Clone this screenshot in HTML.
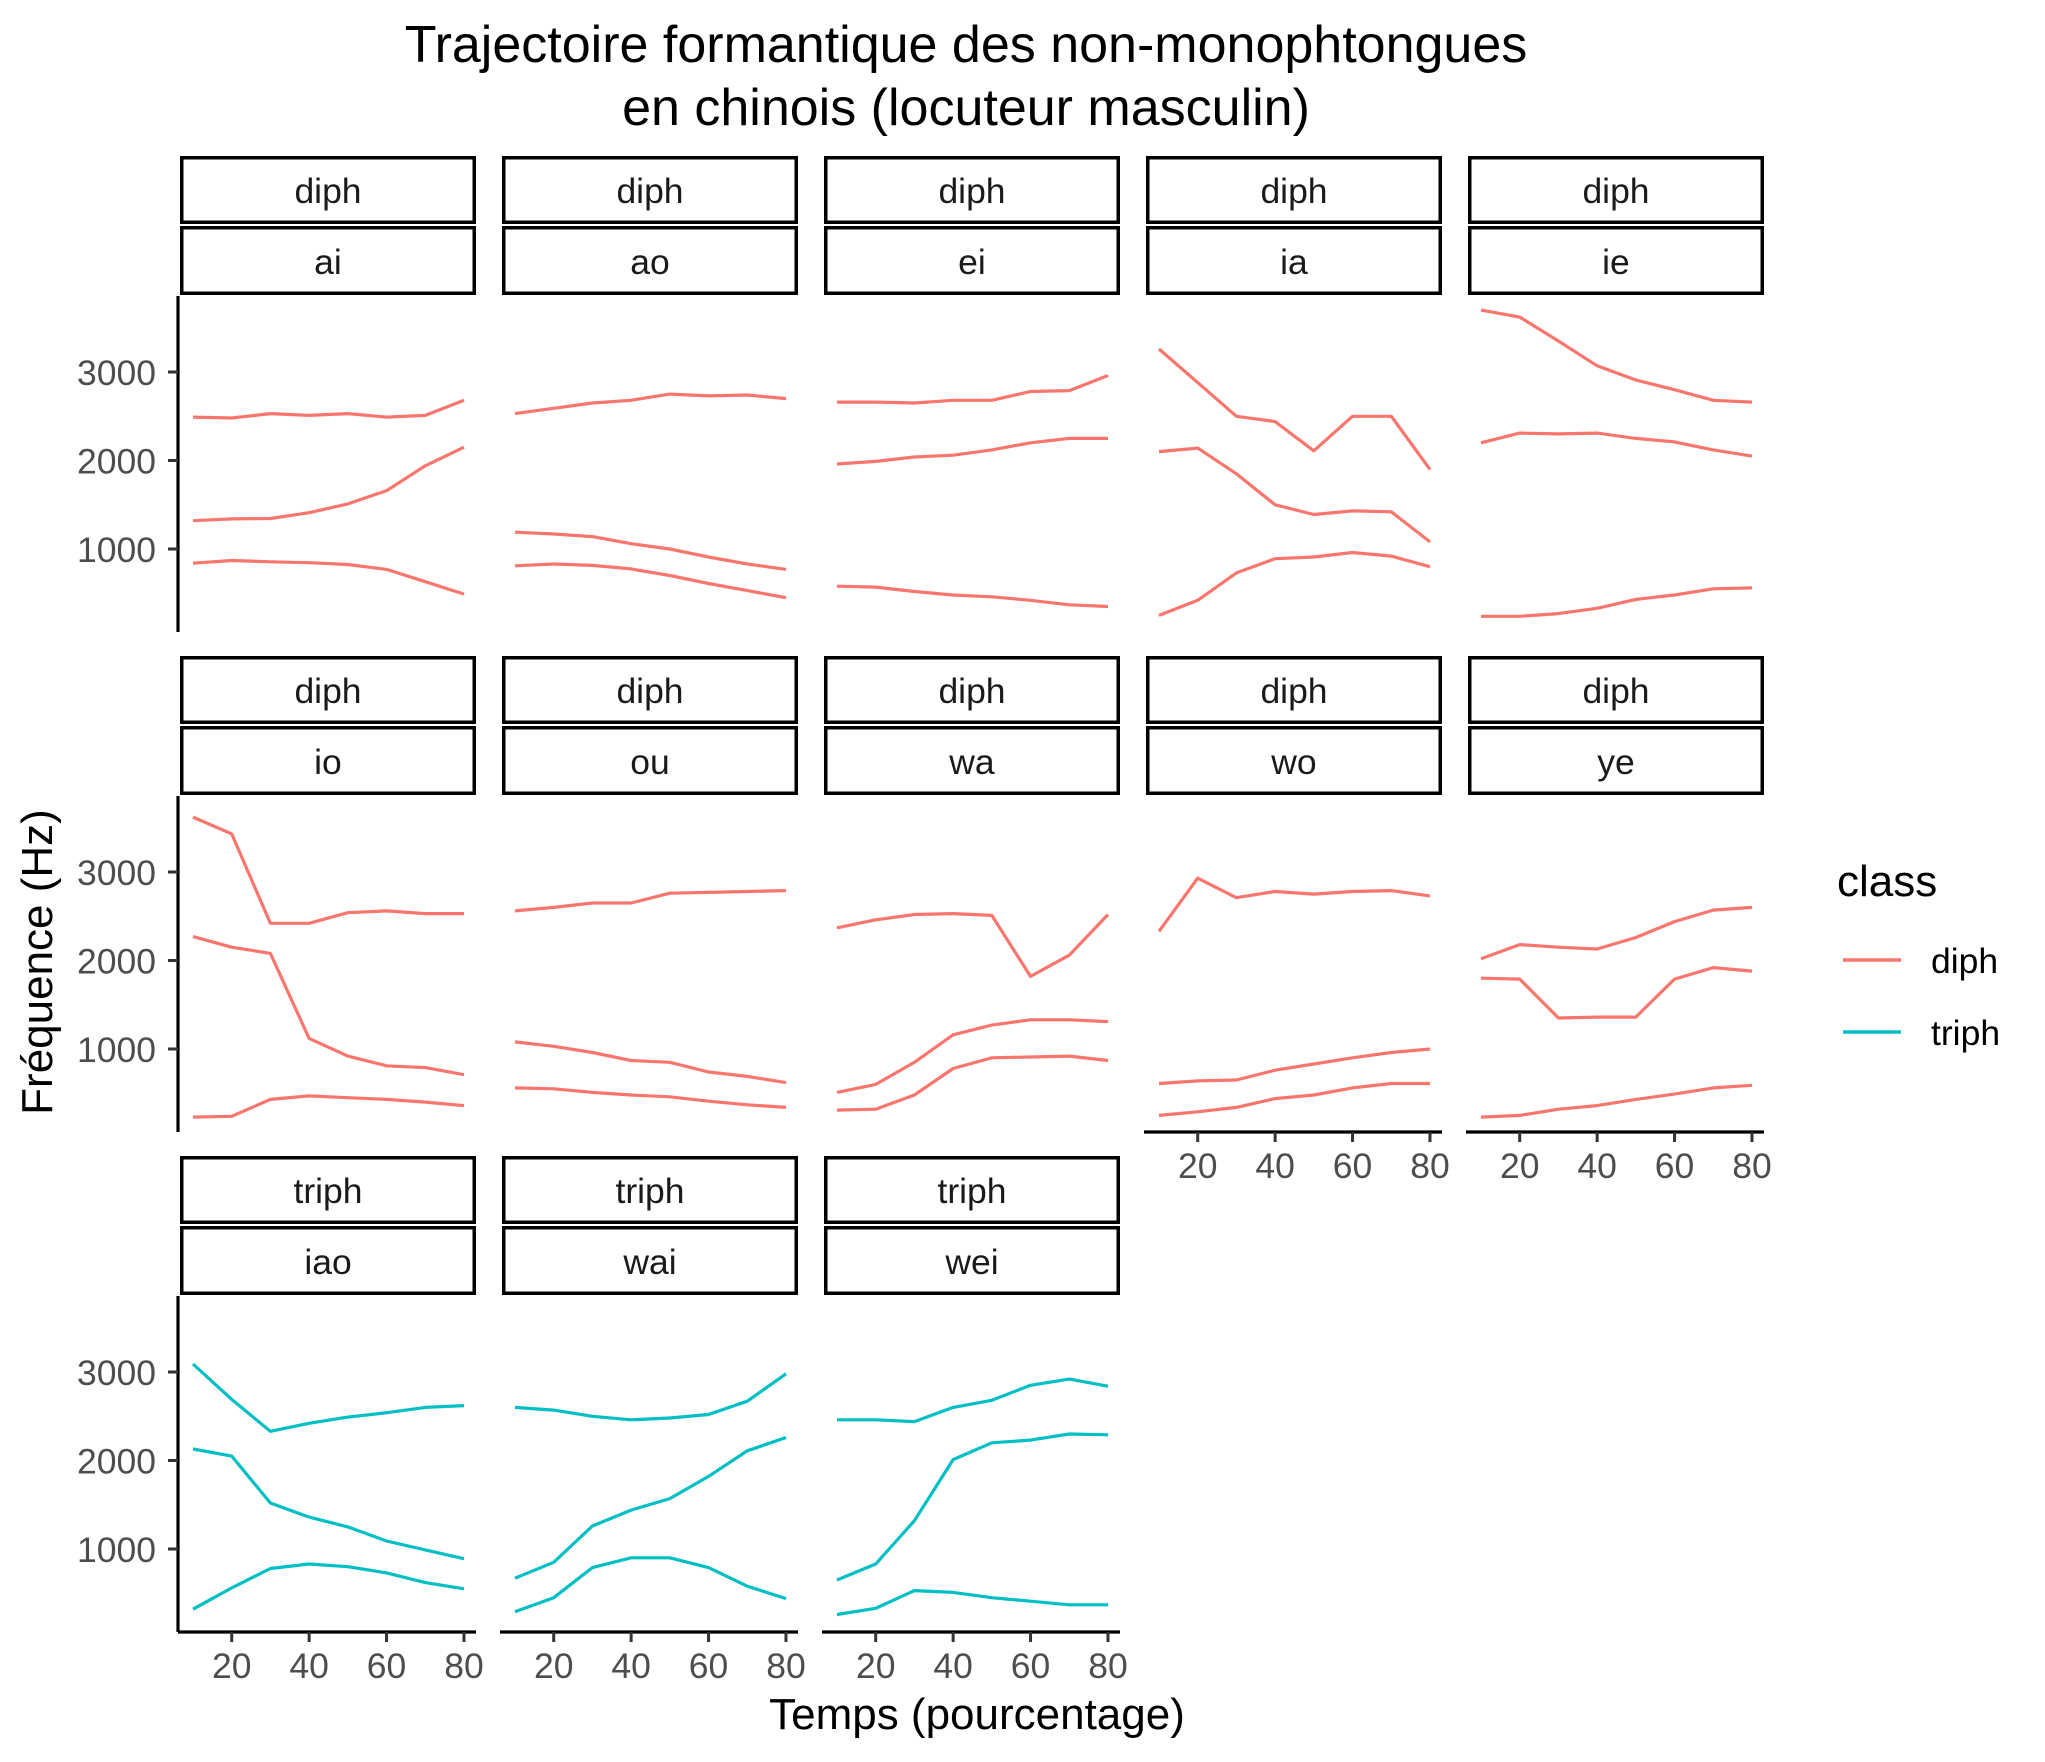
<!DOCTYPE html>
<html><head><meta charset="utf-8"><style>
html,body{margin:0;padding:0;background:#fff;}
svg{display:block;font-family:"Liberation Sans",Arial,sans-serif;}
</style></head><body>
<svg id="chart" width="2045" height="1762" viewBox="0 0 2045 1762" xmlns="http://www.w3.org/2000/svg">
<rect width="2045" height="1762" fill="#fff"/>
<text x="966" y="62" font-size="52" text-anchor="middle" fill="#000">Trajectoire formantique des non-monophtongues</text>
<text x="966" y="125" font-size="52" text-anchor="middle" fill="#000">en chinois (locuteur masculin)</text>
<text x="977" y="1729" font-size="44" text-anchor="middle" fill="#000">Temps (pourcentage)</text>
<text transform="translate(52,962) rotate(-90)" font-size="44" text-anchor="middle" fill="#000">Fréquence (Hz)</text>
<g>
<text x="1837" y="896" font-size="44" fill="#000">class</text>
<line x1="1843" x2="1901" y1="960" y2="960" stroke="#F8766D" stroke-width="3.5"/>
<text x="1931" y="973" font-size="35.5" fill="#000">diph</text>
<line x1="1843" x2="1901" y1="1032" y2="1032" stroke="#00BFC4" stroke-width="3.5"/>
<text x="1931" y="1045" font-size="35.5" fill="#000">triph</text>
</g>
<g id="panels"></g>
</svg>
<script>
const times = [10,20,30,40,50,60,70,80];
const vowels = ["ai","ao","ei","ia","ie","io","ou","wa","wo","ye","iao","wai","wei"];
const classes = ["diph","diph","diph","diph","diph","diph","diph","diph","diph","diph","triph","triph","triph"];
const yTicks = [1000,2000,3000];
const xTicks = [20,40,60,80];
const F1 = [
 [840,870,855,845,825,770,630,490],
 [810,830,815,775,700,610,530,450],
 [580,570,520,480,460,420,370,350],
 [250,420,730,890,910,960,920,800],
 [240,240,270,330,430,480,550,560],
 [230,240,430,470,450,430,400,360],
 [560,550,510,480,460,410,370,340],
 [310,320,480,780,900,910,920,870],
 [250,290,340,440,480,560,610,610],
 [230,250,320,360,430,490,560,590],
 [320,560,780,830,800,730,620,550],
 [290,450,790,900,900,790,580,440],
 [260,330,530,510,450,410,370,370]
];
const F2 = [
 [1320,1340,1345,1410,1510,1660,1940,2150],
 [1190,1170,1140,1060,1000,910,830,770],
 [1960,1990,2040,2060,2120,2200,2250,2250],
 [2100,2140,1850,1500,1390,1430,1420,1080],
 [2200,2310,2300,2310,2250,2210,2120,2050],
 [2270,2150,2080,1120,920,810,790,710],
 [1080,1030,960,870,850,740,690,620],
 [510,600,850,1160,1270,1330,1330,1310],
 [610,640,650,760,830,900,960,1000],
 [1800,1790,1350,1360,1360,1790,1920,1880],
 [2130,2050,1520,1360,1250,1090,990,890],
 [670,850,1260,1440,1570,1820,2110,2260],
 [650,830,1320,2010,2200,2230,2300,2290]
];
const F3 = [
 [2490,2480,2530,2510,2530,2490,2510,2680],
 [2530,2590,2650,2680,2750,2730,2740,2700],
 [2660,2660,2650,2680,2680,2780,2790,2960],
 [3260,2880,2500,2440,2110,2500,2500,1900],
 [3700,3620,3350,3070,2910,2800,2680,2660],
 [3620,3430,2420,2420,2540,2560,2530,2530],
 [2560,2600,2650,2650,2760,2770,2780,2790],
 [2370,2460,2520,2530,2510,1820,2060,2520],
 [2330,2930,2710,2780,2750,2780,2790,2730],
 [2020,2180,2150,2130,2260,2440,2570,2600],
 [3090,2690,2330,2420,2490,2540,2600,2620],
 [2600,2570,2500,2460,2480,2520,2670,2980],
 [2460,2460,2440,2600,2680,2850,2920,2840]
];
const colors = {diph:"#F8766D", triph:"#00BFC4"};
const NS = "http://www.w3.org/2000/svg";
const root = document.getElementById("panels");
function mk(tag, attrs, parent){ const e=document.createElementNS(NS,tag); for(const k in attrs) e.setAttribute(k,attrs[k]); parent.appendChild(e); return e; }
const colPitch = 322, rowPitch = 500, left0 = 178, pw = 298;
function xs(col, t){ return 193 + col*colPitch + (t-10)*3.871; }
function ys(row, v){ return 549 + row*rowPitch - (v-1000)*0.0885; }
vowels.forEach((v, i) => {
  const col = i % 5, row = Math.floor(i / 5);
  const g = mk("g", {}, root);
  
  
  const sx = 180 + col*colPitch, sy = 156 + row*rowPitch;
  const s1 = mk("rect", {x:sx+1.75, y:sy+1.75, width:292.5, height:64.5, fill:"#fff", stroke:"#000", "stroke-width":3.5}, g);
  
  
  const t1 = mk("text", {x:sx+148, y:sy+47, "font-size":35.5, "text-anchor":"middle", fill:"#1a1a1a"}, g);
  t1.textContent = classes[i];
  
  
  const s2 = mk("rect", {x:sx+1.75, y:sy+71.75, width:292.5, height:65.5, fill:"#fff", stroke:"#000", "stroke-width":3.5}, g);
  
  
  const t2 = mk("text", {x:sx+148, y:sy+118, "font-size":35.5, "text-anchor":"middle", fill:"#1a1a1a"}, g);
  t2.textContent = v;
  
  
  const axX = left0 + col*colPitch;
  const top = 296 + row*rowPitch, bot = 632 + row*rowPitch;
  if (col === 0) {
    const ya = mk("line", {x1:axX, x2:axX, y1:top, y2:bot, stroke:"#000", "stroke-width":3.2}, g);
    
    
    yTicks.forEach(tv => {
      const y = ys(row, tv);
      const tk = mk("line", {x1:axX-10, x2:axX, y1:y, y2:y, stroke:"#333", "stroke-width":3}, g);
      
      
      const tl = mk("text", {x:axX-22, y:y+13, "font-size":35.5, "text-anchor":"end", fill:"#4d4d4d"}, g);
      tl.textContent = tv;
      
      
    });
  }
  const bottomMost = (row === 2) || (row === 1 && col >= 3);
  if (bottomMost) {
    const xa = mk("line", {x1:axX, x2:axX+pw, y1:bot, y2:bot, stroke:"#000", "stroke-width":3.2}, g);
    
    
    xTicks.forEach(tv => {
      const x = xs(col, tv);
      const tk = mk("line", {x1:x, x2:x, y1:bot, y2:bot+10, stroke:"#333", "stroke-width":3}, g);
      
      
      const tl = mk("text", {x:x, y:bot+46, "font-size":35.5, "text-anchor":"middle", fill:"#4d4d4d"}, g);
      tl.textContent = tv;
      
      
    });
  }
  [F1, F2, F3].forEach((F, fi) => {
    const pts = times.map((t, k) => xs(col, t).toFixed(1) + "," + ys(row, F[i][k]).toFixed(1)).join(" ");
    const pl = mk("polyline", {points:pts, fill:"none", stroke:colors[classes[i]], "stroke-width":3.2, "stroke-linejoin":"round"}, g);
    
    
  });
});
</script>
</body></html>
